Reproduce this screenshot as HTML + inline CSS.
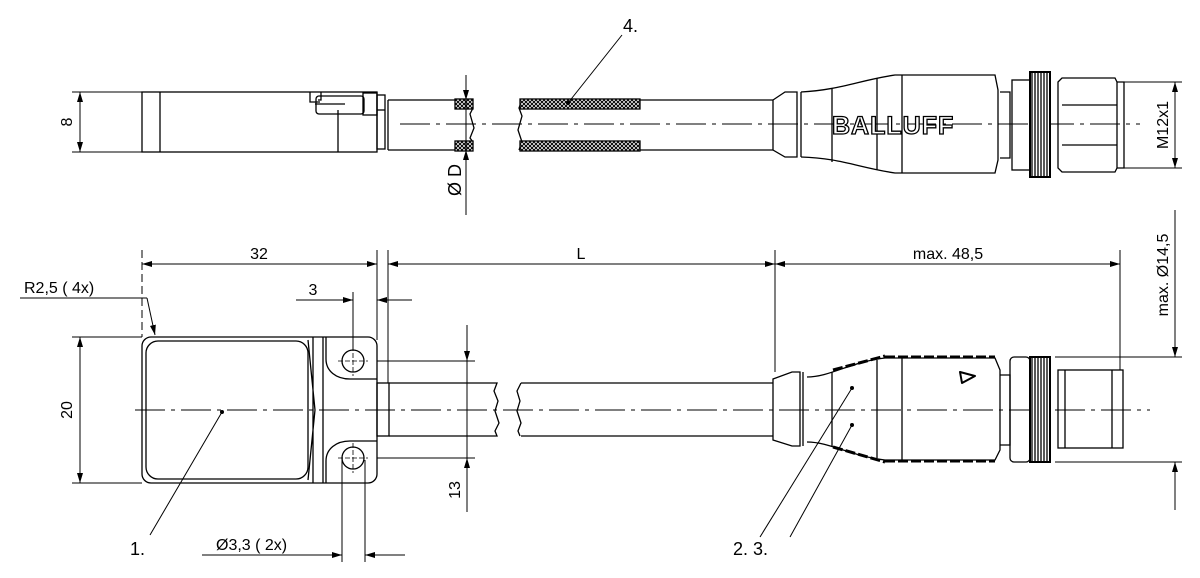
<!DOCTYPE html>
<html><head><style>body{margin:0;background:#fff}svg{display:block}text{font-family:"Liberation Sans",sans-serif}</style></head><body>
<svg width="1200" height="578" viewBox="0 0 1200 578" xmlns="http://www.w3.org/2000/svg">
<defs>
<pattern id="h" width="4" height="4" patternUnits="userSpaceOnUse"><rect width="4" height="4" fill="#fff"/><path d="M0 0L4 4M4 0L0 4" stroke="#000" stroke-width="1"/></pattern>
<marker id="a" viewBox="0 0 10 6" refX="10" refY="3" markerWidth="10" markerHeight="6" orient="auto-start-reverse" markerUnits="userSpaceOnUse"><path d="M0 0L10 3L0 6z" fill="#000"/></marker>
</defs>
<g fill="none" stroke="#000" stroke-width="1.3">
<!-- TOP VIEW -->
<rect x="142" y="92" width="235" height="60"/>
<line x1="160" y1="92" x2="160" y2="152"/>
<line x1="338" y1="110" x2="338" y2="152"/>
<path d="M310 92v10h10M318 100h3v-8M315 104h30"/>
<rect x="316" y="96" width="48" height="18" rx="3"/>
<rect x="363" y="93" width="14" height="22"/>
<rect x="377" y="95" width="8" height="54"/>
<line x1="377" y1="110" x2="385" y2="110"/>
<path d="M388 100H455M388 150H455M388 100V150"/>
<path d="M455 100h15l3 8-3 6 4 14-4 10 3 4-3 8h-15"/>
<rect x="455" y="99" width="18" height="10" fill="url(#h)"/>
<rect x="455" y="141" width="18" height="10" fill="url(#h)"/>
<path d="M522 100l-3 8 3 8-4 14 4 12-3 8"/>
<rect x="520" y="99" width="120" height="10" fill="url(#h)"/>
<rect x="520" y="141" width="120" height="10" fill="url(#h)"/>
<path d="M640 100H773M640 150H773"/>
<line x1="400" y1="124" x2="1140" y2="124" stroke-width="1" stroke-dasharray="30 6 4 6"/>
<!-- top connector -->
<path d="M773 100L785 92H797V157H785L773 150Z"/>
<line x1="801" y1="92" x2="801" y2="157"/>
<path d="M801 92C840 90 860 80 895 75H995L998 90V160L995 173H895C860 168 840 158 801 157"/>
<line x1="832" y1="89" x2="832" y2="162"/><line x1="877" y1="78" x2="877" y2="170"/><line x1="902" y1="75" x2="902" y2="173"/>
<path d="M1000 92h10v66h-10"/>
<rect x="1012" y="80" width="18" height="90"/>
<rect x="1030" y="72" width="20" height="105" fill="#fff" stroke-width="2"/>
<path d="M1032 72v105M1035 72v105M1038 72v105M1041 72v105M1044 72v105M1047 72v105"/>
<path d="M1058 82L1062 78H1115L1117 82V168L1115 172H1062L1058 168Z"/>
<path d="M1062 105H1117M1062 145H1117M1117 82h7v86h-7"/>
<!-- BOTTOM VIEW -->
<rect x="142" y="337" width="235" height="146" rx="9"/>
<rect x="146" y="341" width="162" height="138" rx="12"/>
<path d="M308 340L315 410L308 480M313 337V483M323 337V483"/>
<path d="M326 337v22c0 12 10 20 24 20h27M326 483v-22c0-12 10-20 24-20h27"/>
<circle cx="353" cy="361" r="11"/><circle cx="353" cy="458" r="11"/>
<path d="M353 346v30M338 361h30M353 443v30M338 458h30" stroke-width="0.8" stroke-dasharray="5 2"/>
<rect x="377" y="383" width="12" height="53"/>
<path d="M389 383H497l-3 8 4 10-3 10 4 12-4 8 2 5H389"/>
<path d="M521 383l-4 8 3 10-3 10 4 12-3 8 2 5M521 383H773M521 436H773"/>
<line x1="135" y1="410" x2="1150" y2="410" stroke-width="1" stroke-dasharray="30 6 4 6"/>
<!-- bottom connector -->
<path d="M773 379L792 372H800V446H792L773 440Z"/>
<line x1="803" y1="372" x2="803" y2="446"/>
<path d="M807 377C830 377 850 362 885 358H995L1000 370V450L995 460H885C850 456 830 442 807 442"/>
<line x1="832" y1="372" x2="832" y2="447"/><line x1="877" y1="360" x2="877" y2="458"/><line x1="902" y1="358" x2="902" y2="460"/>
<path d="M833 370L885 356M833 447L885 462" stroke-width="3" stroke-dasharray="10 3"/>
<path d="M885 357H995M885 461H995" stroke-width="3" stroke-dasharray="10 3"/>
<path d="M960 372l15 4-13 7z" stroke-linejoin="round" stroke-width="2"/>
<path d="M1000 375h10v70h-10"/>
<rect x="1010" y="357" width="20" height="105" rx="4"/>
<rect x="1030" y="357" width="20" height="105" fill="#fff" stroke-width="2"/>
<path d="M1032 357v105M1035 357v105M1038 357v105M1041 357v105M1044 357v105M1047 357v105"/>
<rect x="1058" y="370" width="65" height="78"/>
<path d="M1065 370v78M1112 370v78"/>
<!-- DIMENSIONS -->
<g stroke-width="1">
<path d="M72 92H142M72 152H142"/>
<line x1="80" y1="92" x2="80" y2="152" marker-start="url(#a)" marker-end="url(#a)"/>
<line x1="466" y1="75" x2="466" y2="215"/>
<line x1="466" y1="80" x2="466" y2="100" marker-end="url(#a)"/>
<line x1="466" y1="170" x2="466" y2="150" marker-end="url(#a)"/>
<path d="M1117 82H1182M1117 168H1182"/>
<line x1="1175" y1="82" x2="1175" y2="168" marker-start="url(#a)" marker-end="url(#a)"/>
<line x1="142" y1="250" x2="142" y2="337" stroke-dasharray="8 4"/>
<line x1="377" y1="250" x2="377" y2="340"/>
<line x1="388" y1="250" x2="388" y2="383"/>
<line x1="775" y1="250" x2="775" y2="372"/>
<line x1="1120" y1="250" x2="1120" y2="370"/>
<line x1="142" y1="264" x2="377" y2="264" marker-start="url(#a)" marker-end="url(#a)"/>
<line x1="388" y1="264" x2="775" y2="264" marker-start="url(#a)" marker-end="url(#a)"/>
<line x1="775" y1="264" x2="1120" y2="264" marker-start="url(#a)" marker-end="url(#a)"/>
<line x1="353" y1="292" x2="353" y2="350"/>
<line x1="296" y1="300" x2="353" y2="300" marker-end="url(#a)"/>
<line x1="412" y1="300" x2="377" y2="300" marker-end="url(#a)"/>
<path d="M72 337H142M72 483H142"/>
<line x1="80" y1="337" x2="80" y2="483" marker-start="url(#a)" marker-end="url(#a)"/>
<path d="M377 361H475M377 458H475"/>
<line x1="467" y1="325" x2="467" y2="361" marker-end="url(#a)"/>
<line x1="467" y1="512" x2="467" y2="458" marker-end="url(#a)"/>
<line x1="467" y1="361" x2="467" y2="458"/>
<path d="M342 460V562M365 460V562"/>
<line x1="202" y1="555" x2="342" y2="555" marker-end="url(#a)"/>
<line x1="405" y1="555" x2="365" y2="555" marker-end="url(#a)"/>
<path d="M1055 357H1182M1055 462H1182"/>
<line x1="1175" y1="210" x2="1175" y2="357" marker-end="url(#a)"/>
<line x1="1175" y1="510" x2="1175" y2="462" marker-end="url(#a)"/>
<path d="M20 298H147"/>
<line x1="147" y1="298" x2="155" y2="335" marker-end="url(#a)"/>
<line x1="150" y1="535" x2="222" y2="412"/>
<line x1="760" y1="537" x2="852" y2="388"/>
<line x1="790" y1="537" x2="852" y2="425"/>
<line x1="622" y1="35" x2="568" y2="103"/>
</g>
</g>
<circle cx="222" cy="412" r="2"/><circle cx="852" cy="388" r="2"/><circle cx="852" cy="425" r="2"/><circle cx="568" cy="103" r="2"/>
<text x="832" y="134" font-size="25" font-weight="bold" style="fill:#fff;stroke:#000;stroke-width:1.3" letter-spacing="1">BALLUFF</text>
<g font-size="16" style="fill:#000">
<text x="72" y="122" transform="rotate(-90 72 122)" text-anchor="middle">8</text>
<text x="461" y="180" transform="rotate(-90 461 180)" text-anchor="middle" font-size="18">Ø D</text>
<text x="1168" y="125" transform="rotate(-90 1168 125)" text-anchor="middle">M12x1</text>
<text x="259" y="259" text-anchor="middle">32</text>
<text x="581" y="259" text-anchor="middle">L</text>
<text x="948" y="259" text-anchor="middle">max. 48,5</text>
<text x="1168" y="275" transform="rotate(-90 1168 275)" text-anchor="middle">max. Ø14,5</text>
<text x="24" y="293">R2,5 ( 4x)</text>
<text x="313" y="295" text-anchor="middle">3</text>
<text x="72" y="410" transform="rotate(-90 72 410)" text-anchor="middle">20</text>
<text x="460" y="490" transform="rotate(-90 460 490)" text-anchor="middle">13</text>
<text x="216" y="550">Ø3,3 ( 2x)</text>
<text x="130" y="555" font-size="18">1.</text>
<text x="733" y="555" font-size="18">2. 3.</text>
<text x="623" y="32" font-size="18">4.</text>
</g>
</svg>
</body></html>
